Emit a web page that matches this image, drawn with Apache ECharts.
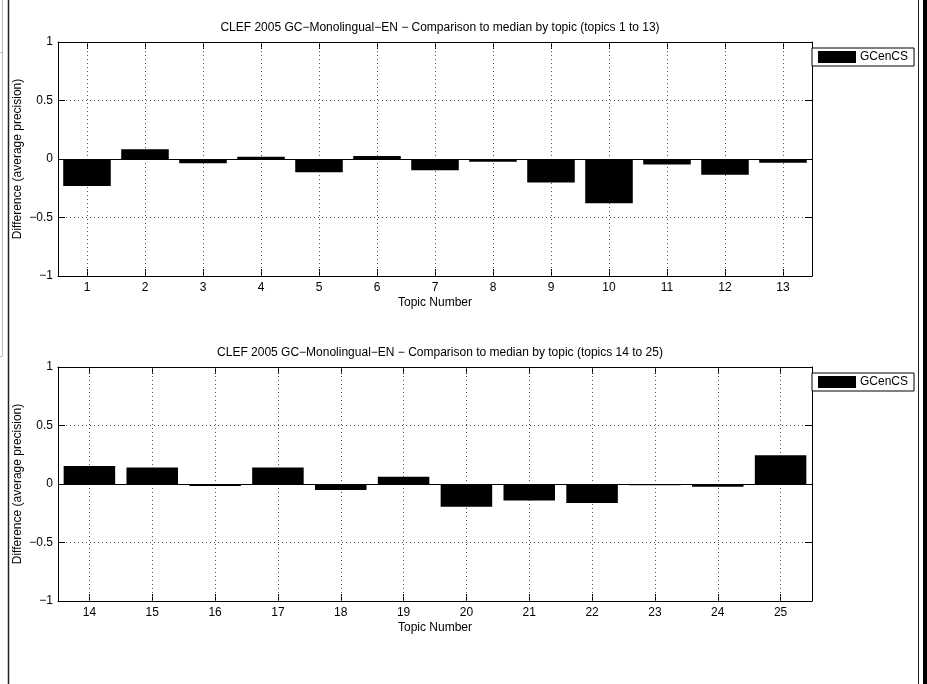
<!DOCTYPE html>
<html>
<head>
<meta charset="utf-8">
<script src="https://cdn.jsdelivr.net/npm/echarts@6/dist/echarts.min.js"></script>
<style>
  html, body { margin: 0; padding: 0; background: #fff; }
  #chart { width: 927px; height: 684px; }
</style>
</head>
<body>
<div id="chart"></div>
<script>
// ---- data ----
const topicsA = ['1','2','3','4','5','6','7','8','9','10','11','12','13'];
const valuesA = [-0.23, 0.083, -0.037, 0.02, -0.114, 0.026, -0.097, -0.023, -0.2, -0.379, -0.048, -0.134, -0.031];
const topicsB = ['14','15','16','17','18','19','20','21','22','23','24','25'];
const valuesB = [0.154, 0.142, -0.017, 0.14, -0.051, 0.063, -0.194, -0.14, -0.162, -0.011, -0.023, 0.245];
const titleA = 'CLEF 2005 GC\u2212Monolingual\u2212EN \u2212 Comparison to median by topic (topics 1 to 13)';
const titleB = 'CLEF 2005 GC\u2212Monolingual\u2212EN \u2212 Comparison to median by topic (topics 14 to 25)';
const seriesName = 'GCenCS';
const xName = 'Topic Number';
const yName = 'Difference (average precision)';

const FONT = '"Liberation Sans", Arial, sans-serif';
const FS = 12;
const chart = echarts.init(document.getElementById('chart'), null, { renderer: 'canvas' });

const gridTops = [42, 367];
const GL = 58, GW = 754, GH = 234;

function fmtY(v) {
  if (v < 0) return '\u2212' + String(Math.abs(v));
  return String(v);
}

const xAxes = [], yAxes = [], series = [], titles = [], legends = [], grids = [];
[[topicsA, valuesA, titleA], [topicsB, valuesB, titleB]].forEach(([cats, vals, ttl], gi) => {
  grids.push({ left: GL, top: gridTops[gi], width: GW, height: GH, show: false });
  const axLine = { show: true, onZero: false, lineStyle: { color: '#000', width: 1 } };
  xAxes.push({
    type: 'category', gridIndex: gi, position: 'bottom', data: cats, boundaryGap: true,
    axisLine: axLine,
    axisTick: { show: true, inside: true, alignWithLabel: true, length: 7, lineStyle: { color: '#000' } },
    axisLabel: { color: '#000', fontFamily: FONT, fontSize: FS, margin: 6 },
    splitLine: { show: false },
    name: xName, nameLocation: 'middle', nameGap: 21, nameMoveOverlap: false,
    nameTextStyle: { color: '#000', fontFamily: FONT, fontSize: FS }
  });
  xAxes.push({
    type: 'category', gridIndex: gi, position: 'top', data: cats, boundaryGap: true,
    axisLine: axLine,
    axisTick: { show: true, inside: true, alignWithLabel: true, length: 7, lineStyle: { color: '#000' } },
    axisLabel: { show: false }, splitLine: { show: false }
  });
  yAxes.push({
    type: 'value', gridIndex: gi, position: 'left', min: -1, max: 1, interval: 0.5,
    axisLine: axLine,
    axisTick: { show: true, inside: true, length: 7, lineStyle: { color: '#000' } },
    axisLabel: { color: '#000', fontFamily: FONT, fontSize: FS, margin: 5, formatter: fmtY },
    splitLine: { show: true, lineStyle: { color: '#555', type: [1, 3], width: 1 } },
    name: yName, nameLocation: 'middle', nameGap: 34, nameRotate: 90, nameMoveOverlap: false,
    nameTextStyle: { color: '#000', fontFamily: FONT, fontSize: FS }
  });
  yAxes.push({
    type: 'value', gridIndex: gi, position: 'right', min: -1, max: 1, interval: 0.5,
    axisLine: axLine,
    axisTick: { show: true, inside: true, length: 7, lineStyle: { color: '#000' } },
    axisLabel: { show: false }, splitLine: { show: false }
  });
  // vertical dotted grid lines at each category (below bars)
  series.push({
    type: 'line', name: 'grid' + gi, xAxisIndex: gi * 2, yAxisIndex: gi * 2, data: [],
    silent: true, z: 1,
    markLine: {
      silent: true, symbol: ['none', 'none'], z: 1, animation: false,
      label: { show: false },
      lineStyle: { color: '#555', type: [1, 3], width: 1 },
      data: cats.map(c => ({ xAxis: c }))
    }
  });
  series.push({
    type: 'bar', name: seriesName, xAxisIndex: gi * 2, yAxisIndex: gi * 2,
    data: vals, barWidth: '82%', z: 3,
    itemStyle: { color: '#000', borderColor: '#000', borderWidth: 0 },
    markLine: {
      silent: true, symbol: ['none', 'none'], z: 4, animation: false,
      label: { show: false },
      lineStyle: { color: '#000', type: 'solid', width: 1 },
      data: [{ yAxis: 0 }]
    }
  });
  titles.push({
    text: ttl, left: GL + GW / 2, top: gridTops[gi] - 25, textAlign: 'center',
    textStyle: { color: '#000', fontFamily: FONT, fontSize: FS, fontWeight: 'normal' }
  });
  legends.push({
    data: [seriesName], left: 812, top: gridTops[gi] + 6, orient: 'vertical',
    selectedMode: false, backgroundColor: '#fff',
    borderColor: '#000', borderWidth: 1, padding: [3, 6, 3, 6],
    icon: 'rect', itemWidth: 38, itemHeight: 12, itemGap: 4,
    textStyle: { color: '#000', fontFamily: FONT, fontSize: FS, padding: [0, 0, 0, -1] }
  });
});

chart.setOption({
  animation: false,
  backgroundColor: '#fff',
  title: titles,
  legend: legends,
  grid: grids,
  xAxis: xAxes,
  yAxis: yAxes,
  series: series,
  graphic: [
    { type: 'line', shape: { x1: 2.5, y1: 0, x2: 2.5, y2: 356 }, style: { stroke: '#bbb', lineWidth: 1 }, silent: true },
    { type: 'line', shape: { x1: 0, y1: 52.5, x2: 2.5, y2: 52.5 }, style: { stroke: '#bbb', lineWidth: 1 }, silent: true },
    { type: 'line', shape: { x1: 0, y1: 356.5, x2: 2.5, y2: 356.5 }, style: { stroke: '#bbb', lineWidth: 1 }, silent: true },
    { type: 'line', shape: { x1: 8.5, y1: 0, x2: 8.5, y2: 684 }, style: { stroke: '#222', lineWidth: 1.5 }, silent: true },
    { type: 'line', shape: { x1: 918.5, y1: 0, x2: 918.5, y2: 684 }, style: { stroke: '#222', lineWidth: 1 }, silent: true },
    { type: 'rect', shape: { x: 923, y: 0, width: 4, height: 684 }, style: { fill: '#000' }, silent: true }
  ]
});
</script>
</body>
</html>
